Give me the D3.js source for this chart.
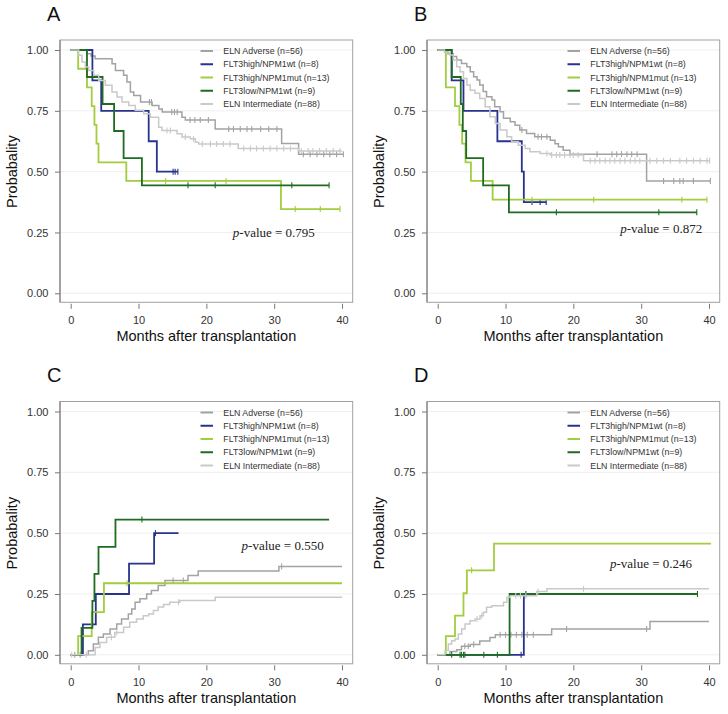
<!DOCTYPE html>
<html><head><meta charset="utf-8">
<script src="https://cdn.jsdelivr.net/npm/d3@7"></script>
<style>body{margin:0;background:#fff;} svg{display:block;font-family:"Liberation Sans",Arial,sans-serif;}</style>
</head><body><svg id="chart" width="728" height="714"></svg>
<script>
// ---------------- data ----------------
const panelLabels = ["A", "B", "C", "D"];
const seriesNames = ["ELN Adverse (n=56)", "FLT3high/NPM1wt (n=8)", "FLT3high/NPM1mut (n=13)", "FLT3low/NPM1wt (n=9)", "ELN Intermediate (n=88)"];
const pValues = ["0.795", "0.872", "0.550", "0.246"];
const xTicks = [0, 10, 20, 30, 40];
const yTicks = [0, 0.25, 0.5, 0.75, 1];
const startValues = [1, 1, 0, 0];
// p-value anchor in data units [month, probability]
const pValueAnchor = [[23.9, 0.23], [26.9, 0.248], [25.2, 0.431], [25.4, 0.357]];

// steps: [month, new value] ; order = seriesNames
const stepsA = [
  [[2.4,0.985],[3.0,0.975],[3.6,0.964],[6.1,0.944],[6.6,0.916],[7.8,0.896],[8.3,0.868],[8.8,0.827],[9.3,0.813],[10.3,0.786],[12.0,0.772],[13.0,0.758],[13.5,0.745],[16.4,0.724],[16.9,0.712],[21.3,0.675],[31.1,0.616],[33.6,0.572]],
  [[3.2,0.875],[4.5,0.75],[11.5,0.625],[12.7,0.5]],
  [[1.1,0.923],[2.4,0.846],[3.1,0.769],[3.5,0.692],[3.8,0.615],[4.1,0.538],[8.2,0.462],[31.0,0.346]],
  [[2.4,0.889],[4.7,0.778],[6.4,0.667],[7.8,0.556],[10.5,0.444]],
  [[1.18,0.978],[1.67,0.951],[2.16,0.93],[2.65,0.916],[3.39,0.896],[4.13,0.875],[5.11,0.855],[6.09,0.827],[6.83,0.807],[7.57,0.786],[8.55,0.772],[9.53,0.752],[10.76,0.738],[11.74,0.724],[12.97,0.683],[13.46,0.669],[15.68,0.656],[16.41,0.642],[17.64,0.635],[18.38,0.621],[18.87,0.614],[24.7,0.595],[33.6,0.585]]
];
const censorA = [
  [11.6,11.9,14.9,15.3,15.7,17.6,18.3,19.1,20.3,23.3,24.0,25.0,26.0,26.7,28.0,29.2,30.4,34.3,35.3,36.3,37.3,38.2,39.2,40.2],
  [15.1,15.4,15.8],
  [14.0,22.9,33.1,36.8,39.7],
  [17.3,21.3,32.6,38.1],
  [14.2,14.7,16.9,18.1,19.4,20.6,21.5,22.5,23.5,25.5,26.5,27.4,28.4,29.4,30.4,31.4,32.4,34,35,35.7,36.7,37.7,38.7,39.7]
];
const endA = [40.2, 15.8, 39.7, 38.1, 40];

const stepsB = [
  [[1.5,0.985],[2.3,0.973],[2.8,0.959],[3.5,0.945],[4.3,0.931],[4.8,0.911],[5.3,0.890],[5.8,0.877],[6.2,0.856],[6.7,0.829],[7.2,0.808],[8.0,0.794],[8.4,0.767],[9.2,0.746],[9.7,0.719],[10.7,0.705],[11.4,0.691],[12.1,0.671],[13.1,0.657],[14.3,0.643],[16.6,0.629],[17.3,0.615],[17.8,0.602],[18.5,0.588],[19.5,0.572],[30.8,0.462]],
  [[2.06,0.875],[3.8,0.75],[8.8,0.625],[12.4,0.5],[12.7,0.375]],
  [[1.2,0.846],[2.55,0.769],[3.2,0.692],[3.6,0.615],[4.1,0.538],[4.9,0.462],[8.1,0.385]],
  [[2.06,0.889],[3.4,0.778],[3.7,0.667],[4.2,0.556],[6.7,0.444],[10.5,0.333]],
  [[1.0,0.99],[1.8,0.979],[2.3,0.959],[2.8,0.931],[3.3,0.911],[3.8,0.883],[4.3,0.856],[4.8,0.835],[5.5,0.822],[6.2,0.801],[7.0,0.767],[7.7,0.726],[8.5,0.698],[9.2,0.671],[10.2,0.643],[10.9,0.623],[11.9,0.609],[12.9,0.595],[13.6,0.582],[15.1,0.575],[16.6,0.568],[21.5,0.545]]
];
const censorB = [
  [12.4,14.8,15.3,16.1,23.5,25.7,26.4,27.1,27.9,28.6,29.4,33.3,34.8,35.7,36.2,37.7,40.2],
  [13.9,15.1,16.0],
  [13.9,23,36,39.7],
  [17.5,32.6,38.2],
  [16.1,16.8,17.5,18.0,18.7,19.5,20.0,20.7,22.5,23.2,23.9,24.7,25.4,26.1,26.9,27.6,28.4,29.1,29.8,31.3,32.3,33.3,34.3,35.7,36.7,37.7,38.7,39.7,40.1]
];
const endB = [40.2, 16.0, 39.7, 38.2, 40.1];

const stepsC = [
  [[2.6,0.0165],[3.34,0.044],[4.08,0.072],[4.82,0.085],[5.8,0.106],[6.79,0.127],[7.5,0.147],[8.5,0.168],[9.0,0.188],[9.5,0.216],[10.2,0.23],[11.2,0.25],[11.9,0.264],[12.9,0.285],[13.9,0.305],[17.3,0.326],[18.8,0.344],[30.7,0.363]],
  [[1.8,0.125],[3.7,0.25],[8.6,0.375],[12.3,0.5]],
  [[1.1,0.077],[3.1,0.175],[4.9,0.294]],
  [[1.6,0.111],[3.2,0.222],[3.5,0.333],[4.1,0.444],[6.6,0.556]],
  [[3.6,0.03],[4.3,0.051],[5.3,0.072],[6.5,0.092],[7.8,0.113],[8.7,0.134],[9.7,0.147],[10.7,0.161],[11.5,0.168],[12.2,0.182],[12.9,0.196],[13.7,0.207],[14.6,0.216],[16.1,0.223],[21.3,0.237]]
];
const censorC = [
  [0.6,1.4,15.1,16.6,31.1],
  [12.5],
  [8.3],
  [10.5],
  [0.15,2.3,6.0,6.8,15.9]
];
const endC = [40, 15.9, 40, 38.1, 40];

const stepsD = [
  [[1.8,0.014],[2.8,0.021],[3.5,0.035],[4.8,0.042],[6.2,0.057],[7.7,0.071],[8.5,0.082],[16.8,0.106],[31.3,0.137]],
  [[12.7,0.25]],
  [[1.2,0.077],[2.55,0.161],[3.8,0.253],[4.3,0.347],[8.3,0.457]],
  [[10.6,0.25]],
  [[1.08,0.019],[1.57,0.044],[2.06,0.058],[2.55,0.065],[3.04,0.085],[3.54,0.106],[4.03,0.127],[4.76,0.14],[5.5,0.147],[6.24,0.161],[6.73,0.175],[7.2,0.195],[7.96,0.202],[9.7,0.216],[10.2,0.237],[10.7,0.243],[14.6,0.26],[16.1,0.271]]
];
const censorD = [
  [4.0,4.5,5.3,9.2,10.0,10.8,11.6,12.4,13.2,14.1,19.0,30.8],
  [12.3,13.0],
  [5.0],
  [2.06,3.3,3.5,3.8,4.0,6.8,8.8,38.3],
  [5.8,6.5,11.5,12.2,13.0,14.8,21.5]
];
const endD = [40, 13.0, 40.3, 38.3, 40];

// ---------------- styles / layout ----------------
const seriesColors = ["#a3a3a3", "#28328f", "#a2cd3f", "#1f6b22", "#c9c9c9"];
const seriesWidths = [1.5, 1.8, 1.8, 1.8, 1.5];
const panelOffsets = [[0, 0], [367, 0], [0, 361.5], [367, 361.5]];
const frame = {x0: 60, x1: 352.7, y0: 40, y1: 302.3};

const allSteps = [stepsA, stepsB, stepsC, stepsD];
const allCensor = [censorA, censorB, censorC, censorD];
const allEnds = [endA, endB, endC, endD];

const svg = d3.select("#chart");
const x = d3.scaleLinear().domain([0, 40]).range([70.7, 342]);
const y = d3.scaleLinear().domain([0, 1]).range([293.3, 50]);
const line = d3.line().x(d => x(d[0])).y(d => y(d[1])).curve(d3.curveStepAfter);

function valueAt(start, steps, t) {
  let v = start;
  for (const s of steps) { if (s[0] <= t) v = s[1]; }
  return v;
}

panelLabels.forEach((lab, pi) => {
  const g = svg.append("g").attr("transform", `translate(${panelOffsets[pi][0]},${panelOffsets[pi][1]})`);
  // grid
  g.selectAll("line.grid").data(yTicks).enter().append("line")
    .attr("x1", frame.x0).attr("x2", frame.x1)
    .attr("y1", d => y(d)).attr("y2", d => y(d))
    .attr("stroke", "#ebebeb").attr("stroke-width", 0.8);
  // frame
  g.append("rect").attr("x", frame.x0).attr("y", frame.y0)
    .attr("width", frame.x1 - frame.x0).attr("height", frame.y1 - frame.y0)
    .attr("fill", "none").attr("stroke", "#a0a0a0").attr("stroke-width", 1);
  g.append("line").attr("x1", frame.x0).attr("x2", frame.x0).attr("y1", frame.y0).attr("y2", frame.y1)
    .attr("stroke", "#8a8a8a").attr("stroke-width", 1.3);
  // y axis
  const ya = d3.axisLeft(y).tickValues(yTicks).tickFormat(d3.format(".2f")).tickSize(5).tickPadding(6.5);
  const yg = g.append("g").attr("transform", `translate(${frame.x0},0)`).call(ya);
  yg.select(".domain").remove();
  yg.selectAll(".tick line").attr("stroke", "#777");
  yg.selectAll(".tick text").attr("fill", "#333").attr("font-size", 11).attr("font-family", "Liberation Sans, Arial, sans-serif");
  // x axis
  const xa = d3.axisBottom(x).tickValues(xTicks).tickSize(5).tickPadding(7.5);
  const xg = g.append("g").attr("transform", `translate(0,${frame.y1 + 1.5})`).call(xa);
  xg.select(".domain").remove();
  xg.selectAll(".tick line").attr("stroke", "#777");
  xg.selectAll(".tick text").attr("fill", "#333").attr("font-size", 11).attr("font-family", "Liberation Sans, Arial, sans-serif");
  // titles
  g.append("text").attr("x", (x(0) + x(40)) / 2).attr("y", 341).attr("text-anchor", "middle")
    .attr("font-size", 14.5).attr("fill", "#111").text("Months after transplantation");
  g.append("text").attr("transform", `translate(16.5,${(y(0) + y(1)) / 2}) rotate(-90)`).attr("text-anchor", "middle")
    .attr("font-size", 14.5).attr("fill", "#111").text("Probabality");
  g.append("text").attr("x", 47).attr("y", 20.5).attr("font-size", 20).attr("fill", "#111").text(lab);

  // curves
  const steps = allSteps[pi], cens = allCensor[pi], ends = allEnds[pi], sv = startValues[pi];
  seriesNames.forEach((nm, si) => {
    const st = steps[si];
    const last = st.length ? st[st.length - 1][1] : sv;
    const pts = [[0, sv]].concat(st).concat([[ends[si], last]]);
    g.append("path").attr("d", line(pts)).attr("fill", "none")
      .attr("stroke", seriesColors[si]).attr("stroke-width", seriesWidths[si]);
    g.selectAll(null).data(cens[si]).enter().append("line")
      .attr("x1", d => x(d)).attr("x2", d => x(d))
      .attr("y1", d => y(valueAt(sv, st, d)) - 3).attr("y2", d => y(valueAt(sv, st, d)) + 3)
      .attr("stroke", seriesColors[si]).attr("stroke-width", 1.1);
  });

  // legend
  const lg = g.append("g");
  seriesNames.forEach((nm, si) => {
    const ly = 51 + si * 13.25;
    lg.append("line").attr("x1", 200.5).attr("x2", 213).attr("y1", ly).attr("y2", ly)
      .attr("stroke", seriesColors[si]).attr("stroke-width", 2);
    lg.append("text").attr("x", 223.3).attr("y", ly + 3).attr("font-size", 8.8).attr("fill", "#333").text(nm);
  });

  // p-value
  const pa = pValueAnchor[pi];
  const pt = g.append("text").attr("x", x(pa[0])).attr("y", y(pa[1]))
    .attr("font-family", "Liberation Serif, 'DejaVu Serif', serif").attr("font-size", 13).attr("fill", "#222");
  pt.append("tspan").attr("font-style", "italic").text("p");
  pt.append("tspan").text("-value = " + pValues[pi]);
});
</script>
</body></html>
